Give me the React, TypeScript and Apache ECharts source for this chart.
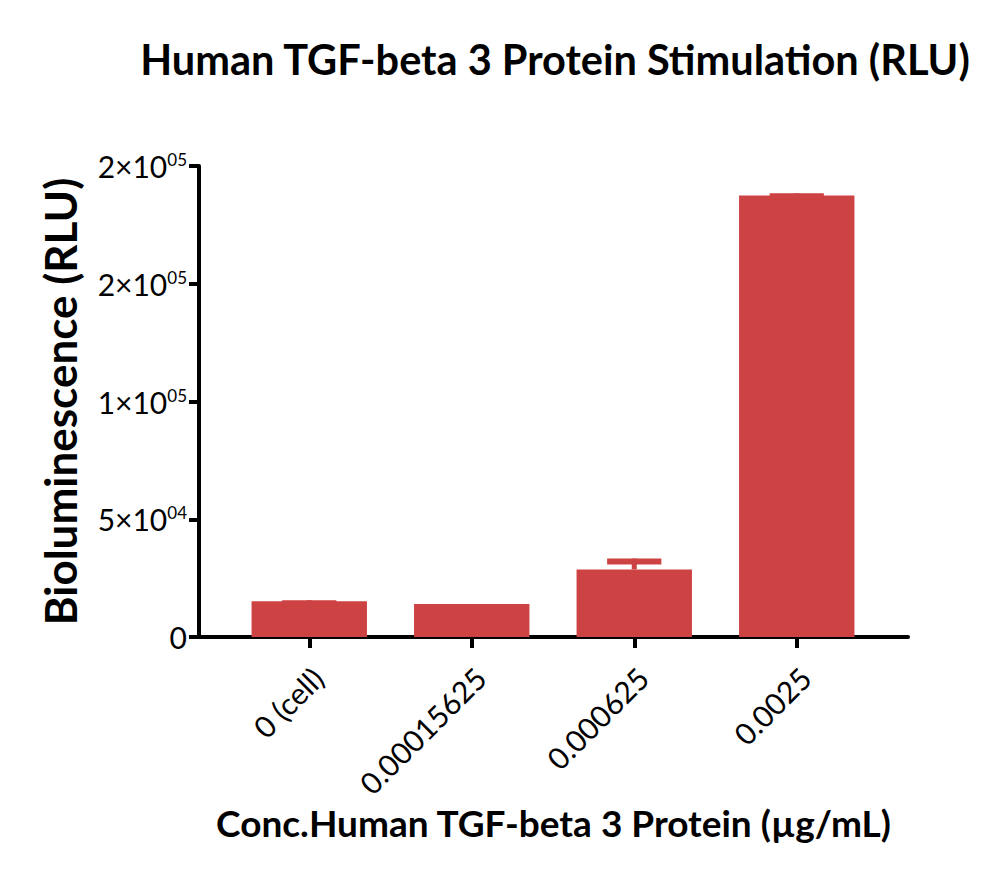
import React, { useEffect, useRef } from "react";
import * as echarts from "echarts";

const categories = ["0 (cell)", "0.00015625", "0.000625", "0.0025"];
const means = [15200, 14000, 28700, 187500];
const upper = [15600, 14000, 33300, 188400];
const yTickLabels = ["0", "5×10^04", "1×10^05", "2×10^05", "2×10^05"];
const yMin = 0;
const yMax = 200000;
const yInterval = 50000;

const titleText = "Human TGF-beta 3 Protein Stimulation (RLU)";
const yName = "Bioluminescence (RLU)";
const xName = "Conc.Human TGF-beta 3 Protein (µg/mL)";

const BAR_COLOR = "#CD4242";
const FONT = "Lato, 'Open Sans', sans-serif";

export default function App() {
  const ref = useRef<HTMLDivElement>(null);
  useEffect(() => {
    if (!ref.current) return;
    const chart = echarts.init(ref.current, undefined, { renderer: "svg" });
    const option: any = {
      animation: false,
      backgroundColor: "#ffffff",
      textStyle: { fontFamily: FONT },
      title: {
        text: titleText,
        left: 550,
        textAlign: "center",
        top: 33,
        textStyle: { fontFamily: FONT, fontWeight: "bold", fontSize: 41.5, color: "#000" },
      },
      grid: [
        { left: 199, right: 92, top: 166, bottom: 242 },
        { left: 228, right: 122, top: 166, bottom: 242 },
      ],
      xAxis: [
        {
          type: "value",
          gridIndex: 0,
          min: 0,
          max: 1,
          axisLine: { show: true, lineStyle: { color: "#000", width: 4 } },
          axisTick: { show: false },
          axisLabel: { show: false },
          splitLine: { show: false },
          name: xName,
          nameLocation: "middle",
          nameGap: 167,
          nameTextStyle: { fontFamily: FONT, fontWeight: "bold", fontSize: 37, color: "#000" },
        },
        {
          type: "category",
          gridIndex: 1,
          data: categories,
          axisLine: { show: false },
          axisTick: { show: true, alignWithLabel: true, length: 11, lineStyle: { color: "#000", width: 4 } },
          axisLabel: {
            rotate: 45,
            fontSize: 30,
            color: "#000",
            margin: 27,
            fontFamily: FONT,
            verticalAlign: "top",
            lineHeight: 24,
          },
          splitLine: { show: false },
        },
      ],
      yAxis: [
        {
          type: "value",
          gridIndex: 0,
          min: yMin,
          max: yMax,
          interval: yInterval,
          axisLine: { show: true, lineStyle: { color: "#000", width: 4 } },
          axisTick: { show: true, length: 10, lineStyle: { color: "#000", width: 4 } },
          splitLine: { show: false },
          axisLabel: {
            margin: 12,
            formatter: (v: number) => {
              const idx = Math.round((v - yMin) / yInterval);
              const s = yTickLabels[idx] ?? "";
              const parts = s.split("^");
              if (parts.length === 2) return `{b|${parts[0]}}{s|${parts[1]}}`;
              return `{b|${s}}`;
            },
            rich: {
              b: { fontSize: 30, color: "#000", fontFamily: FONT, lineHeight: 30, verticalAlign: "middle" },
              s: { fontSize: 17, color: "#000", fontFamily: FONT, lineHeight: 17, verticalAlign: "top" },
            },
          },
          name: yName,
          nameLocation: "middle",
          nameGap: 117,
          nameTextStyle: { fontFamily: FONT, fontWeight: "bold", fontSize: 44, color: "#000" },
        },
        {
          type: "value",
          gridIndex: 1,
          min: yMin,
          max: yMax,
          interval: yInterval,
          show: false,
          splitLine: { show: false },
        },
      ],
      series: [
        {
          type: "bar",
          xAxisIndex: 1,
          yAxisIndex: 1,
          data: means,
          barWidth: "71%",
          itemStyle: { color: BAR_COLOR },
          z: 2,
        },
        {
          type: "custom",
          xAxisIndex: 1,
          yAxisIndex: 1,
          data: categories.map((c, i) => [i, means[i], upper[i]]),
          z: 3,
          renderItem: (params: any, api: any) => {
            const x = api.value(0);
            const m = api.value(1);
            const u = api.value(2);
            const p0 = api.coord([x, m]);
            const p1 = api.coord([x, u]);
            const band = api.size([1, 0])[0];
            const capW = band * 0.71 * 0.47;
            const capH = 6;
            return {
              type: "group",
              children: [
                {
                  type: "rect",
                  shape: { x: p1[0] - 2.5, y: p1[1], width: 5, height: Math.max(0, p0[1] - p1[1]) },
                  style: { fill: BAR_COLOR },
                },
                {
                  type: "rect",
                  shape: { x: p1[0] - capW / 2, y: p1[1], width: capW, height: capH },
                  style: { fill: BAR_COLOR },
                },
              ],
            };
          },
        },
      ],
    };
    chart.setOption(option);
    return () => chart.dispose();
  }, []);
  return (
    <div
      ref={ref}
      style={{ position: "fixed", left: 0, top: 0, width: 1000, height: 879, background: "#fff" }}
    />
  );
}
